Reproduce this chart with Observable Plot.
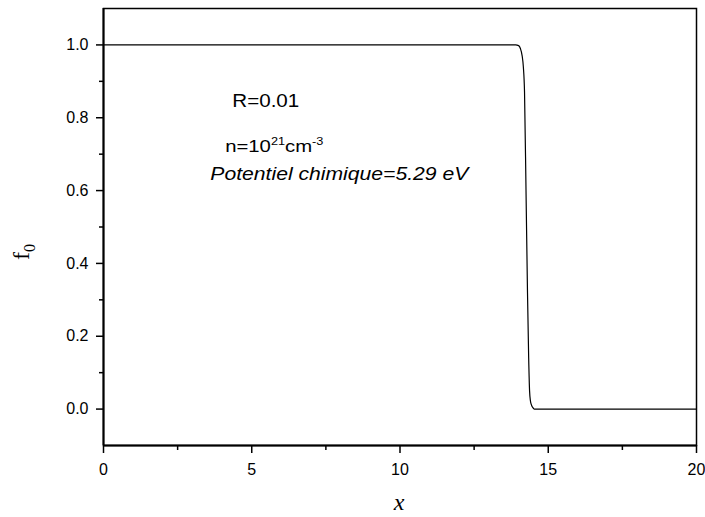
<!DOCTYPE html>
<html>
<head>
<meta charset="utf-8">
<script src="https://cdn.jsdelivr.net/npm/d3@7"></script>
<script src="https://cdn.jsdelivr.net/npm/@observablehq/plot@0.6"></script>
<style>
  html, body { margin: 0; padding: 0; background: white; }
</style>
</head>
<body>
<div id="chart"></div>
<script>
// Fermi-Dirac distribution f0(x)
const xs = [0, 13.9, 14.0, 14.06, 14.12, 14.16, 14.2, 14.25, 14.3, 14.34, 14.37, 14.4, 14.44, 14.48, 14.53, 14.6, 20];
const fs = [1, 1, 0.998, 0.99, 0.97, 0.94, 0.87, 0.6, 0.32, 0.14, 0.05, 0.022, 0.01, 0.004, 0, 0, 0];

const xMajorTicks = [0, 5, 10, 15, 20];
const xMinorTicks = [2.5, 7.5, 12.5, 17.5];
const yMajorTicks = [0, 0.2, 0.4, 0.6, 0.8, 1.0];
const yMinorTicks = [0.1, 0.3, 0.5, 0.7, 0.9];

const xDomain = [0, 20];
const yDomain = [-0.1, 1.1];

const annR = "R=0.01";
const annN = ["n=10", "21", "cm", "-3"];
const annMu = "Potentiel chimique=5.29 eV";
const xLabel = "x";
const yLabel = ["f", "0"];

const data = xs.map((x, i) => ({x, f: fs[i]}));

const plot = Plot.plot({
  width: 705,
  height: 517,
  marginLeft: 103,
  marginRight: 9,
  marginTop: 8,
  marginBottom: 72,
  style: {fontFamily: "'Liberation Sans', Arial, sans-serif", fontSize: "16px", color: "black", background: "white"},
  x: {domain: xDomain, label: null},
  y: {domain: yDomain, label: null},
  marks: [
    Plot.axisX(xMajorTicks, {tickSize: 8, tickPadding: 10, tickFormat: d => String(d), label: null, strokeWidth: 1.5, fontSize: 16}),
    Plot.axisX(xMinorTicks, {tickSize: 5, tickFormat: () => "", label: null, strokeWidth: 1.5}),
    Plot.axisY(yMajorTicks, {tickSize: 7, tickPadding: 8, tickFormat: d => d.toFixed(1), label: null, strokeWidth: 1.5, fontSize: 16}),
    Plot.axisY(yMinorTicks, {tickSize: 4, tickFormat: () => "", label: null, strokeWidth: 1.5}),
    Plot.frame({stroke: "black", strokeWidth: 1.5}),
    Plot.ruleX([xDomain[0]], {stroke: "black", strokeWidth: 2}),
    Plot.ruleY([yDomain[0]], {stroke: "black", strokeWidth: 2}),
    Plot.line(data, {x: "x", y: "f", stroke: "black", strokeWidth: 1.2, curve: "monotone-x"})
  ]
});

document.getElementById("chart").appendChild(plot);

const sx = plot.scale("x");
const sy = plot.scale("y");
const svg = d3.select(plot);
const sans = "'Liberation Sans', Arial, sans-serif";
const serif = "'Liberation Serif', 'Times New Roman', serif";

// annotations (positions in data units)
svg.append("text")
  .attr("text-anchor", "start")
  .attr("x", sx.apply(4.36)).attr("y", sy.apply(0.827))
  .attr("font-family", sans).attr("font-size", 18)
  .attr("textLength", 67).attr("lengthAdjust", "spacingAndGlyphs")
  .text(annR);

const tn = svg.append("text")
  .attr("text-anchor", "start")
  .attr("transform", `translate(${sx.apply(4.12)},${sy.apply(0.704)}) scale(1.27,1)`)
  .attr("font-family", sans).attr("font-size", 16);
tn.append("tspan").text(annN[0]);
tn.append("tspan").attr("font-size", 10).attr("dy", -7).text(annN[1]);
tn.append("tspan").attr("dy", 7).text(annN[2]);
tn.append("tspan").attr("font-size", 10).attr("dy", -7).text(annN[3]);

svg.append("text")
  .attr("text-anchor", "start")
  .attr("x", sx.apply(3.62)).attr("y", sy.apply(0.629))
  .attr("font-family", sans).attr("font-size", 18).attr("font-style", "italic")
  .attr("textLength", 258).attr("lengthAdjust", "spacingAndGlyphs")
  .text(annMu);

// axis labels
svg.append("text")
  .attr("transform", `translate(399,510)`)
  .attr("text-anchor", "middle")
  .attr("font-family", serif).attr("font-size", 24).attr("font-style", "italic")
  .text(xLabel);

const ty = svg.append("text")
  .attr("transform", `translate(29,${sy.apply(0.43)}) rotate(-90)`)
  .attr("text-anchor", "middle")
  .attr("font-family", serif).attr("font-size", 24);
ty.append("tspan").text(yLabel[0]);
ty.append("tspan").attr("font-size", 16).attr("dy", 6).text(yLabel[1]);
</script>
</body>
</html>
